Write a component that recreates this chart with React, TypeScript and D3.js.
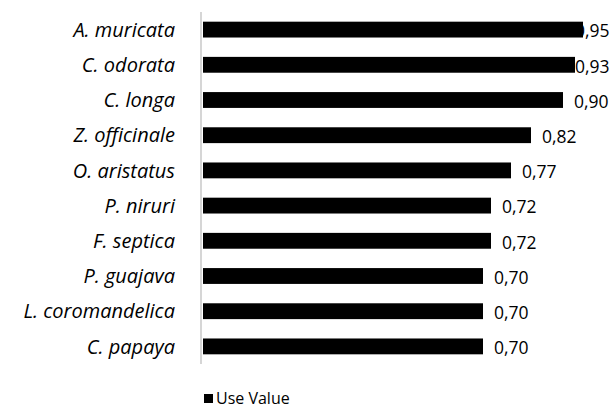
import React from "react";
import * as d3 from "d3";

const species = [
  "A. muricata",
  "C. odorata",
  "C. longa",
  "Z. officinale",
  "O. aristatus",
  "P. niruri",
  "F. septica",
  "P. guajava",
  "L. coromandelica",
  "C. papaya",
];
const useValues = [0.95, 0.93, 0.9, 0.82, 0.77, 0.72, 0.72, 0.7, 0.7, 0.7];
const seriesName = "Use Value";

const W = 615;
const H = 411;

export default function App() {
  const x = d3.scaleLinear().domain([0, 1]).range([203, 603]);
  const y = d3.scaleBand<string>().domain(species).range([12, 364]).paddingInner(0.55).paddingOuter(0.275);
  const font = "'Open Sans', 'Noto Sans', sans-serif";
  const fmt = (v: number) => d3.format(".2f")(v).replace(".", ",");
  return (
    <svg width={W} height={H} style={{ position: "absolute", left: 0, top: 0, background: "#fff" }}>
      {species.map((s, i) => {
        const yy = y(s)!;
        const bw = y.bandwidth();
        const end = x(useValues[i]);
        const lx = Math.min(end + 11, 575);
        return (
          <g key={s}>
            <rect x={x(0)} y={yy} width={end - x(0)} height={bw} fill="#000" />
            <text
              x={175}
              y={yy + bw / 2}
              dy="0.36em"
              textAnchor="end"
              fontFamily={font}
              fontStyle="italic"
              fontSize={20}
              fill="#000"
            >
              {s}
            </text>
            <text x={lx} y={yy + bw / 2} dy="0.45em" fontFamily={font} fontSize={17.5} fill="#000">
              {fmt(useValues[i])}
            </text>
          </g>
        );
      })}
      <line x1={201} x2={201} y1={12} y2={364} stroke="#c8c8c8" strokeWidth={1.5} />
      <rect x={204} y={394} width={9} height={9} fill="#000" />
      <text x={216} y={404} fontFamily={font} fontSize={16} fill="#000">
        {seriesName}
      </text>
    </svg>
  );
}
